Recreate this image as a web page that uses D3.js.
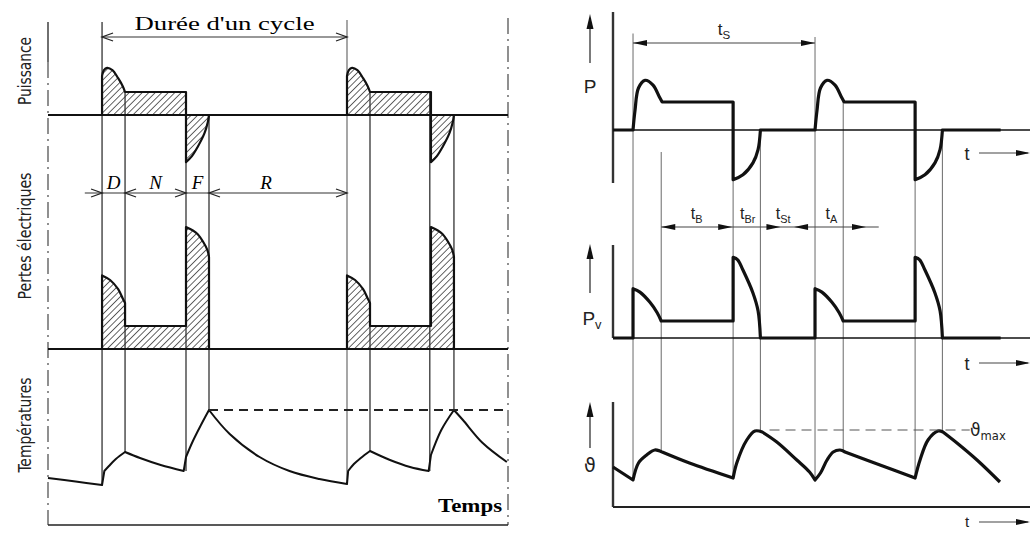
<!DOCTYPE html>
<html>
<head>
<meta charset="utf-8">
<script src="https://cdn.jsdelivr.net/npm/d3@7"></script>
<style>
  body { margin: 0; background: #fff; }
  svg { display: block; }
</style>
</head>
<body>
<script>
// ---------- left diagram : power / losses / temperature over one cycle ----------
// time in units, cycle = D + N + F + R
var leftCycleStarts = [2.35, 13.0];
var leftPhaseNames = ["D", "N", "F", "R"];
var leftPhaseOffsets = [0, 1.0, 3.65, 4.65, 10.65];

// pieces of [t, value], t counted from the cycle start
var leftPowerShape = [
  [[0, 0], [0, 1.7]],
  [[0, 1.7], [0.08, 1.95], [0.22, 2.05], [0.45, 1.95], [0.7, 1.6], [0.9, 1.25], [1.0, 1.0]],
  [[1.0, 1.0], [3.65, 1.0]],
  [[3.65, 1.0], [3.65, -2.05]],
  [[3.65, -2.05], [3.9, -1.8], [4.15, -1.4], [4.45, -0.8], [4.6, -0.3], [4.65, 0]]
];
var leftLossShape = [
  [[0, 0], [0, 3.2]],
  [[0, 3.2], [0.35, 3.0], [0.7, 2.6], [0.9, 2.2], [1.0, 2.0]],
  [[1.0, 2.0], [1.0, 1.0]],
  [[1.0, 1.0], [3.65, 1.0]],
  [[3.65, 1.0], [3.65, 5.3]],
  [[3.65, 5.3], [3.95, 5.15], [4.15, 5.0], [4.4, 4.65], [4.58, 4.3], [4.65, 4.0]],
  [[4.65, 4.0], [4.65, 0]]
];
var leftTemp = [
  [[0, 2.2], [1.2, 1.85], [2.35, 1.5]],
  [[2.35, 1.5], [2.45, 2.9]],
  [[2.45, 2.9], [2.65, 3.4], [2.95, 4.1], [3.35, 4.8]],
  [[3.35, 4.8], [4.0, 4.2], [4.9, 3.5], [5.9, 2.9]],
  [[5.9, 2.9], [6.0, 4.3]],
  [[6.0, 4.3], [6.3, 5.9], [6.65, 7.5], [7.0, 9.0]],
  [[7.0, 9.0], [7.9, 6.6], [9.2, 4.3], [10.5, 2.9], [11.8, 2.1], [13.0, 1.6]],
  [[13.0, 1.6], [13.05, 2.9]],
  [[13.05, 2.9], [13.3, 3.6], [13.6, 4.2], [14.0, 4.9]],
  [[14.0, 4.9], [14.87, 4.0], [15.74, 3.3], [16.55, 2.9]],
  [[16.55, 2.9], [16.65, 4.5]],
  [[16.65, 4.5], [17.1, 7.0], [17.65, 9.0]],
  [[17.65, 9.0], [18.04, 8.0], [18.9, 5.7], [19.95, 3.8]]
];
var leftTempMax = 9.0;
// [t, top (power units), bottom (temperature units)]
var leftGuides = [
  [2.35, 4.04, 1.5], [3.35, 1.0, 4.8], [6.0, 1.0, 2.9], [7.0, 0, 9.0],
  [13.0, 4.13, 1.6], [14.0, 1.0, 4.9], [16.6, 1.0, 2.9], [17.65, 0, 9.0]
];
var leftAxisLabels = ["Puissance", "Pertes électriques", "Températures"];

// ---------- right diagram : P, Pv, theta ----------
var rightCycleStarts = [1.1, 11.1];
var rightPhaseOffsets = [0, 1.55, 5.5, 7.0];
var rightEnd = 21.3;
var rightPowerShape = [
  [[0, 0], [0.11, 1.4], [0.3, 3.0], [0.66, 3.55], [1.1, 3.2], [1.45, 2.35], [1.6, 2.0]],
  [[1.6, 2.0], [5.5, 2.0]],
  [[5.5, 2.0], [5.5, -3.55]],
  [[5.5, -3.55], [6.04, -3.2], [6.59, -2.35], [6.87, -1.4], [7.0, 0]]
];
var rightLossShape = [
  [[0, 0], [0, 2.9]],
  [[0, 2.9], [0.38, 2.7], [0.93, 2.1], [1.32, 1.5], [1.55, 1.0]],
  [[1.55, 1.0], [5.5, 1.0]],
  [[5.5, 1.0], [5.5, 4.75]],
  [[5.5, 4.75], [5.75, 4.6], [6.04, 4.0], [6.59, 2.65], [6.87, 1.6], [7.0, 0]]
];
var rightTemp = [
  [[0, 3.3], [1.1, 2.0]],
  [[1.1, 2.0], [1.4, 3.7], [1.85, 4.5], [2.3, 5.0], [2.7, 4.8]],
  [[2.7, 4.8], [4.2, 3.7], [6.6, 2.2]],
  [[6.6, 2.2], [6.8, 3.7], [7.35, 6.0], [7.8, 6.9], [8.2, 6.8]],
  [[8.2, 6.8], [9.0, 5.8], [10.1, 4.0], [10.8, 2.8], [11.1, 2.0]],
  [[11.1, 2.0], [11.4, 2.7], [11.76, 4.0], [12.1, 4.8], [12.47, 5.0], [12.75, 4.8]],
  [[12.75, 4.8], [14.67, 3.5], [16.6, 2.2]],
  [[16.6, 2.2], [16.87, 4.0], [17.31, 6.0], [17.86, 6.9], [18.13, 6.8]],
  [[18.13, 6.8], [18.9, 5.7], [20.0, 4.0], [21.26, 1.8]]
];
var rightTempMax = 7.0;
var rightTempMaxSpan = [8.6, 19.6];
var rightGuides = [
  [1.1, 6.9, 2.0], [2.65, -1.57, 4.8], [6.6, 0, 2.2], [8.1, 0, 6.8],
  [11.1, 6.65, 2.0], [12.65, 2.15, 4.8], [16.6, 0, 2.2], [18.1, 0, 6.8]
];
// dimension labels under P: [main, sub, t]
var rightDimLabels = [["t", "B", 4.6], ["t", "Br", 7.4], ["t", "St", 9.35], ["t", "A", 12.0]];
// arrow tips on that dimension line: [t, direction]
var rightDimTips = [[2.65, -1], [6.55, 1], [9.2, 1], [9.95, -1], [13.9, 1]];

// ---------- scales ----------
var xL = d3.scaleLinear().domain([0, 20]).range([48, 508]);
var yLP = d3.scaleLinear().domain([-2, 2]).range([161, 69]);
var yLL = d3.scaleLinear().domain([0, 6]).range([349, 211]);
var yLT = d3.scaleLinear().domain([0, 10]).range([500, 400]);

var xR = d3.scaleLinear().domain([0, 23]).range([613, 1031.6]);
var yRP = d3.scaleLinear().domain([-4, 4]).range([186, 74]);
var yRL = d3.scaleLinear().domain([0, 5]).range([338, 253]);
var yRT = d3.scaleLinear().domain([0, 10]).range([500, 400]);

var svg = d3.select("body").append("svg").attr("width", 1030).attr("height", 533);

svg.append("defs")
  .append("pattern")
  .attr("id", "hatch")
  .attr("patternUnits", "userSpaceOnUse")
  .attr("width", 4.6)
  .attr("height", 4.6)
  .attr("patternTransform", "rotate(45)")
  .append("line")
  .attr("x1", 0).attr("y1", 0).attr("x2", 0).attr("y2", 4.6)
  .attr("stroke", "#111")
  .attr("stroke-width", 1.3);

function piecePath(pieces, x, y) {
  var line = d3.line()
    .x((d) => x(d[0]))
    .y((d) => y(d[1]))
    .curve(d3.curveCatmullRom.alpha(0.5));
  return pieces
    .map((p, i) => (i ? line(p).replace(/^M/, "L") : line(p)))
    .join("");
}

function shift(shape, s) {
  return shape.map((p) => p.map((d) => [d[0] + s, d[1]]));
}

// full trace: zero run, cycle, zero run, cycle, zero run
function fullTrace(shape, starts, end) {
  var out = [];
  var last = [0, 0];
  starts.forEach((s) => {
    var cyc = shift(shape, s);
    out.push([last, cyc[0][0]]);
    cyc.forEach((p) => out.push(p));
    var lp = cyc[cyc.length - 1];
    last = lp[lp.length - 1];
  });
  out.push([last, [end, 0]]);
  return out;
}

function hline(g, x1, x2, y, w, col, dash) {
  return g.append("line")
    .attr("x1", x1).attr("x2", x2).attr("y1", y).attr("y2", y)
    .attr("stroke", col || "#111").attr("stroke-width", w)
    .attr("stroke-dasharray", dash || null);
}
function vline(g, x, y1, y2, w, col, dash) {
  return g.append("line")
    .attr("x1", x).attr("x2", x).attr("y1", y1).attr("y2", y2)
    .attr("stroke", col || "#111").attr("stroke-width", w)
    .attr("stroke-dasharray", dash || null);
}
function openHead(g, x, y, dir) {
  g.append("path")
    .attr("d", `M${x - dir * 11},${y - 4}L${x},${y}L${x - dir * 11},${y + 4}`)
    .attr("fill", "none").attr("stroke", "#222").attr("stroke-width", 1.3);
}
function solidHead(g, x, y, dir) {
  g.append("path")
    .attr("d", `M${x},${y}L${x - dir * 14},${y - 3}L${x - dir * 14},${y + 3}Z`)
    .attr("fill", "#111");
}
function upArrow(g, x, y1, y2) {
  vline(g, x, y1, y2 + 4, 1.3, "#333");
  g.append("path")
    .attr("d", `M${x},${y2}L${x - 3.5},${y2 + 15}L${x + 3.5},${y2 + 15}Z`)
    .attr("fill", "#111");
}
function subText(g, x, y, main, sub, size) {
  var t = g.append("text")
    .attr("x", x).attr("y", y)
    .attr("text-anchor", "middle")
    .attr("font-size", size);
  t.append("tspan").text(main);
  t.append("tspan").attr("font-size", size * 0.68).attr("dy", size * 0.22).text(sub);
  return t;
}

// ================= LEFT =================
var L = svg.append("g");

// hatched areas
leftCycleStarts.forEach((s) => {
  L.append("path").attr("d", piecePath(shift(leftPowerShape, s), xL, yLP) + "Z")
    .attr("fill", "url(#hatch)").attr("stroke", "none");
  L.append("path").attr("d", piecePath(shift(leftLossShape, s), xL, yLL) + "Z")
    .attr("fill", "url(#hatch)").attr("stroke", "none");
});

// frame
vline(L, xL(0), 22, 62, 1.4, "#333");
vline(L, xL(0), 62, 525, 1.3, "#555", "16,5,2,5");
vline(L, xL(20), 18, 525, 1.3, "#555", "16,5,2,5");
hline(L, xL(0), xL(20), 525, 1.5, "#222");

// guide lines
leftGuides.forEach((g, i) => {
  vline(L, xL(g[0]), yLP(g[1]), yLT(g[2]), 1.3, i === 4 ? "#777" : "#333");
});

// zero lines
hline(L, xL(0), xL(20), yLP(0), 1.8);
hline(L, xL(0), xL(20), yLL(0), 1.8);

// outlines
leftCycleStarts.forEach((s) => {
  L.append("path").attr("d", piecePath(shift(leftPowerShape, s), xL, yLP))
    .attr("fill", "none").attr("stroke", "#111").attr("stroke-width", 2.2).attr("stroke-linejoin", "round");
  L.append("path").attr("d", piecePath(shift(leftLossShape, s), xL, yLL))
    .attr("fill", "none").attr("stroke", "#111").attr("stroke-width", 2.2).attr("stroke-linejoin", "round");
});
L.append("path").attr("d", piecePath(leftTemp, xL, yLT))
  .attr("fill", "none").attr("stroke", "#111").attr("stroke-width", 2).attr("stroke-linejoin", "round");

// max temperature
hline(L, xL(leftPhaseOffsets[3] + leftCycleStarts[0]), xL(20), yLT(leftTempMax), 1.8, "#222", "9,6");

// cycle dimension
var c0 = leftCycleStarts[0], c1 = leftCycleStarts[1];
hline(L, xL(c0), xL(c1), 37, 1.2, "#333");
openHead(L, xL(c0), 37, -1);
openHead(L, xL(c1), 37, 1);
L.append("text")
  .attr("x", (xL(c0) + xL(c1)) / 2).attr("y", 30)
  .attr("text-anchor", "middle")
  .attr("font-family", "Liberation Serif, serif")
  .attr("font-size", 19)
  .attr("textLength", 180).attr("lengthAdjust", "spacingAndGlyphs")
  .text("Durée  d'un  cycle");

// phase dimension
hline(L, xL(1.6), xL(c0 + leftPhaseOffsets[4]), 193, 1.2, "#333");
[[0, 1], [1, -1], [2, 1], [3, -1], [4, 1]].forEach((a) => {
  openHead(L, xL(c0 + leftPhaseOffsets[a[0]]), 193, a[1]);
});
leftPhaseNames.forEach((n, i) => {
  var mid = c0 + (leftPhaseOffsets[i] + leftPhaseOffsets[i + 1]) / 2;
  L.append("text")
    .attr("x", xL(mid) + (i === 3 ? -12 : 0)).attr("y", 189)
    .attr("text-anchor", "middle")
    .attr("font-family", "Liberation Serif, serif")
    .attr("font-style", "italic")
    .attr("font-size", 19)
    .text(n);
});

// side labels
var sideCenters = [71, 236, 425], sideLen = [68, 127, 95];
leftAxisLabels.forEach((t, i) => {
  L.append("text")
    .attr("transform", `translate(31,${sideCenters[i]}) rotate(-90)`)
    .attr("text-anchor", "middle")
    .attr("font-family", "Liberation Sans Narrow, DejaVu Sans Condensed, sans-serif")
    .attr("font-size", 17)
    .attr("fill", "#222")
    .attr("textLength", sideLen[i]).attr("lengthAdjust", "spacingAndGlyphs")
    .text(t);
});

L.append("text")
  .attr("x", xL(18.35)).attr("y", 512)
  .attr("text-anchor", "middle")
  .attr("font-family", "Liberation Serif, serif")
  .attr("font-weight", "bold")
  .attr("font-size", 18)
  .attr("textLength", 64).attr("lengthAdjust", "spacingAndGlyphs")
  .text("Temps");

// ================= RIGHT =================
var R = svg.append("g").attr("font-family", "Liberation Sans, DejaVu Sans, sans-serif").attr("fill", "#222");

// guides
rightGuides.forEach((g) => {
  vline(R, xR(g[0]), yRP(g[1]), yRT(g[2]), 1.1, "#777");
});

// panel axes
vline(R, xR(0), 12, 183, 2.4, "#333");
vline(R, xR(0), 245, yRL(0), 2.4, "#333");
vline(R, xR(0), 402, 507, 2.4, "#333");
hline(R, xR(0), 1030, yRP(0), 1.5);
hline(R, xR(0), 1030, yRL(0), 1.5);
hline(R, xR(0), 1030, 507, 1.8, "#222");

// traces
R.append("path").attr("d", piecePath(fullTrace(rightPowerShape, rightCycleStarts, rightEnd), xR, yRP))
  .attr("fill", "none").attr("stroke", "#111").attr("stroke-width", 3.2).attr("stroke-linejoin", "round");
R.append("path").attr("d", piecePath(fullTrace(rightLossShape, rightCycleStarts, rightEnd), xR, yRL))
  .attr("fill", "none").attr("stroke", "#111").attr("stroke-width", 3.2).attr("stroke-linejoin", "round");
R.append("path").attr("d", piecePath(rightTemp, xR, yRT))
  .attr("fill", "none").attr("stroke", "#111").attr("stroke-width", 3.2).attr("stroke-linejoin", "round");

// theta max
hline(R, xR(rightTempMaxSpan[0]), xR(rightTempMaxSpan[1]), yRT(rightTempMax), 1.1, "#555", "10,6");
subText(R, xR(20.6), yRT(rightTempMax) + 6, "ϑ", "max", 17).attr("font-family", "DejaVu Sans, sans-serif");

// cycle dimension tS
var r0 = rightCycleStarts[0], r1 = rightCycleStarts[1];
hline(R, xR(r0), xR(r1), 43, 1.1, "#444");
solidHead(R, xR(r0), 43, -1);
solidHead(R, xR(r1), 43, 1);
subText(R, (xR(r0) + xR(r1)) / 2, 35, "t", "S", 17);

// phase dimension
hline(R, xR(r0 + rightPhaseOffsets[1]), xR(14.6), 227, 1.1, "#444");
rightDimTips.forEach((d) => solidHead(R, xR(d[0]), 227, d[1]));
rightDimLabels.forEach((d) => subText(R, xR(d[2]), 219, d[0], d[1], 16));

// y arrows and labels
upArrow(R, 590, 63, 14);
R.append("text").attr("x", 590).attr("y", 93).attr("text-anchor", "middle").attr("font-size", 19).text("P");
upArrow(R, 590, 293, 244);
subText(R, 592, 325, "P", "v", 19);
upArrow(R, 590, 448, 402);
R.append("text").attr("x", 590).attr("y", 472).attr("text-anchor", "middle")
  .attr("font-family", "DejaVu Sans, sans-serif").attr("font-size", 19).text("ϑ");

// t arrows
[[160, 153, 18], [370, 363, 18], [527, 522, 15]].forEach((a) => {
  R.append("text").attr("x", 967).attr("y", a[0]).attr("text-anchor", "middle").attr("font-size", a[2]).text("t");
  hline(R, 979, 1028, a[1], 1.1, "#444");
  solidHead(R, 1030, a[1], 1);
});
</script>
</body>
</html>
